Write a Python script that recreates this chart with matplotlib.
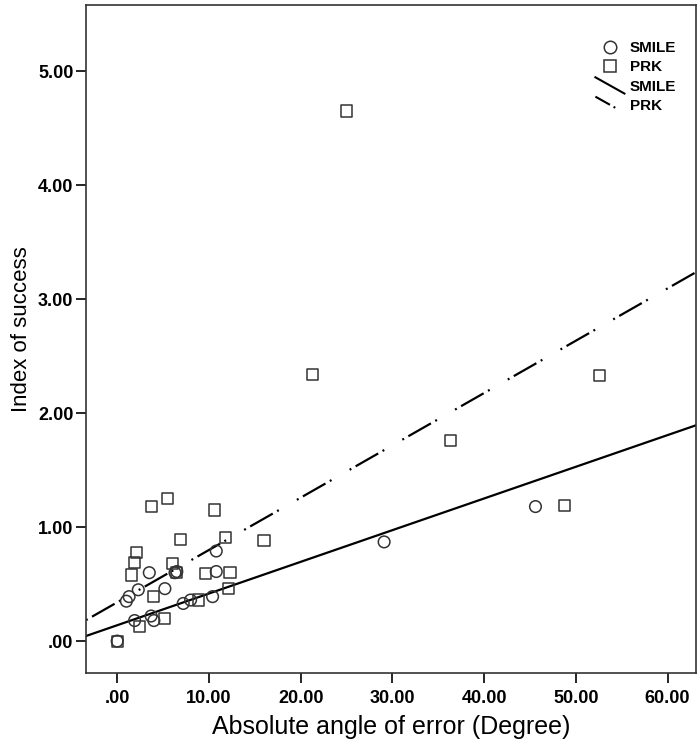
import matplotlib
matplotlib.use("Agg")
import matplotlib.pyplot as plt
import numpy as np
from matplotlib.lines import Line2D
from matplotlib.legend_handler import HandlerLine2D

plt.rcParams['font.family'] = ['Liberation Sans', 'DejaVu Sans']
plt.rcParams['lines.scale_dashes'] = False

# SMILE (circles)
smile_x = [0.0, 1.0, 1.3, 2.3, 3.5, 1.9, 3.7, 4.0, 5.2, 6.3, 6.5, 7.2, 8.0, 10.4, 10.8, 10.8, 29.1, 45.6]
smile_y = [0.0, 0.35, 0.39, 0.45, 0.60, 0.18, 0.22, 0.18, 0.46, 0.60, 0.61, 0.33, 0.36, 0.39, 0.79, 0.61, 0.87, 1.18]

# PRK (squares)
prk_x = [0.0, 2.4, 1.6, 1.9, 2.1, 3.7, 5.5, 4.0, 5.2, 6.0, 6.9, 6.5, 9.6, 8.9, 10.6, 11.8, 12.3, 12.1,
         16.0, 21.3, 25.0, 36.3, 48.8, 52.6]
prk_y = [0.0, 0.13, 0.58, 0.69, 0.78, 1.18, 1.25, 0.39, 0.20, 0.68, 0.89, 0.60, 0.59, 0.36, 1.15, 0.91, 0.60, 0.46,
         0.88, 2.34, 4.65, 1.76, 1.19, 2.33]

# fit lines (intercept, slope)
smile_fit = (0.139, 0.0278)
prk_fit = (0.34, 0.0459)

xticks = [0, 10, 20, 30, 40, 50, 60]
xticklabels = ['.00', '10.00', '20.00', '30.00', '40.00', '50.00', '60.00']
yticks = [0, 1, 2, 3, 4, 5]
yticklabels = ['.00', '1.00', '2.00', '3.00', '4.00', '5.00']

fig = plt.figure(figsize=(7.0, 7.46), dpi=100)
ax = fig.add_axes([86/700, 1-673/746, (696-86)/700, (673-5)/746])

xlim = (-3.4, 63.1)
ylim = (-0.28, 5.58)
ax.set_xlim(*xlim)
ax.set_ylim(*ylim)

xx = np.array(xlim)
ax.plot(xx, smile_fit[0] + smile_fit[1]*xx, color='black', lw=1.6, zorder=2)
dashpat = (0, (1.4, 3.6, 18.7, 3.6, 1.4, 15))
ax.plot(xx, prk_fit[0] + prk_fit[1]*xx, color='black', lw=1.6, linestyle=dashpat, zorder=2)

ax.scatter(prk_x, prk_y, marker='s', s=64, facecolors='none', edgecolors='#333333', linewidths=1.1, zorder=3)
ax.scatter(smile_x, smile_y, marker='o', s=70, facecolors='none', edgecolors='#333333', linewidths=1.1, zorder=3)

ax.set_xticks(xticks)
ax.set_xticklabels(xticklabels)
ax.set_yticks(yticks)
ax.set_yticklabels(yticklabels)
ax.tick_params(direction='out', length=7, width=1.2, labelsize=13)
ax.tick_params(axis='y', pad=2)
ax.tick_params(axis='x', pad=5)
for lab in ax.get_xticklabels() + ax.get_yticklabels():
    lab.set_fontweight('bold')
for sp in ax.spines.values():
    sp.set_linewidth(1.2)
    sp.set_color('#333333')

ax.set_xlabel('Absolute angle of error (Degree)', fontsize=18, labelpad=6)
ax.set_ylabel('Index of success', fontsize=16)
ax.yaxis.set_label_coords(-0.088, 0.515)


class DiagHandler(HandlerLine2D):
    def create_artists(self, legend, orig_handle, xdescent, ydescent, width, height, fontsize, trans):
        line = Line2D([0, width], [height + 2, -2])
        self.update_prop(line, orig_handle, legend)
        line.set_transform(trans)
        return [line]


h1 = Line2D([], [], marker='o', linestyle='none', markerfacecolor='none', markeredgecolor='#333333', markersize=9, markeredgewidth=1.1)
h2 = Line2D([], [], marker='s', linestyle='none', markerfacecolor='none', markeredgecolor='#333333', markersize=8.5, markeredgewidth=1.1)
h3 = Line2D([], [], color='black', lw=1.5)
h4 = Line2D([], [], color='black', lw=1.5, linestyle=(0, (12, 3, 1.4, 20)))
leg = ax.legend([h1, h2, h3, h4], ['SMILE', 'PRK', 'SMILE', 'PRK'],
                handler_map={h3: DiagHandler(), h4: DiagHandler()},
                loc='upper right', bbox_to_anchor=(0.985, 0.962), frameon=False,
                prop={'weight': 'bold', 'size': 11}, handlelength=1.9, handletextpad=0.35,
                labelspacing=0.35, borderpad=0.2)

fig.savefig('out.png', dpi=100)
